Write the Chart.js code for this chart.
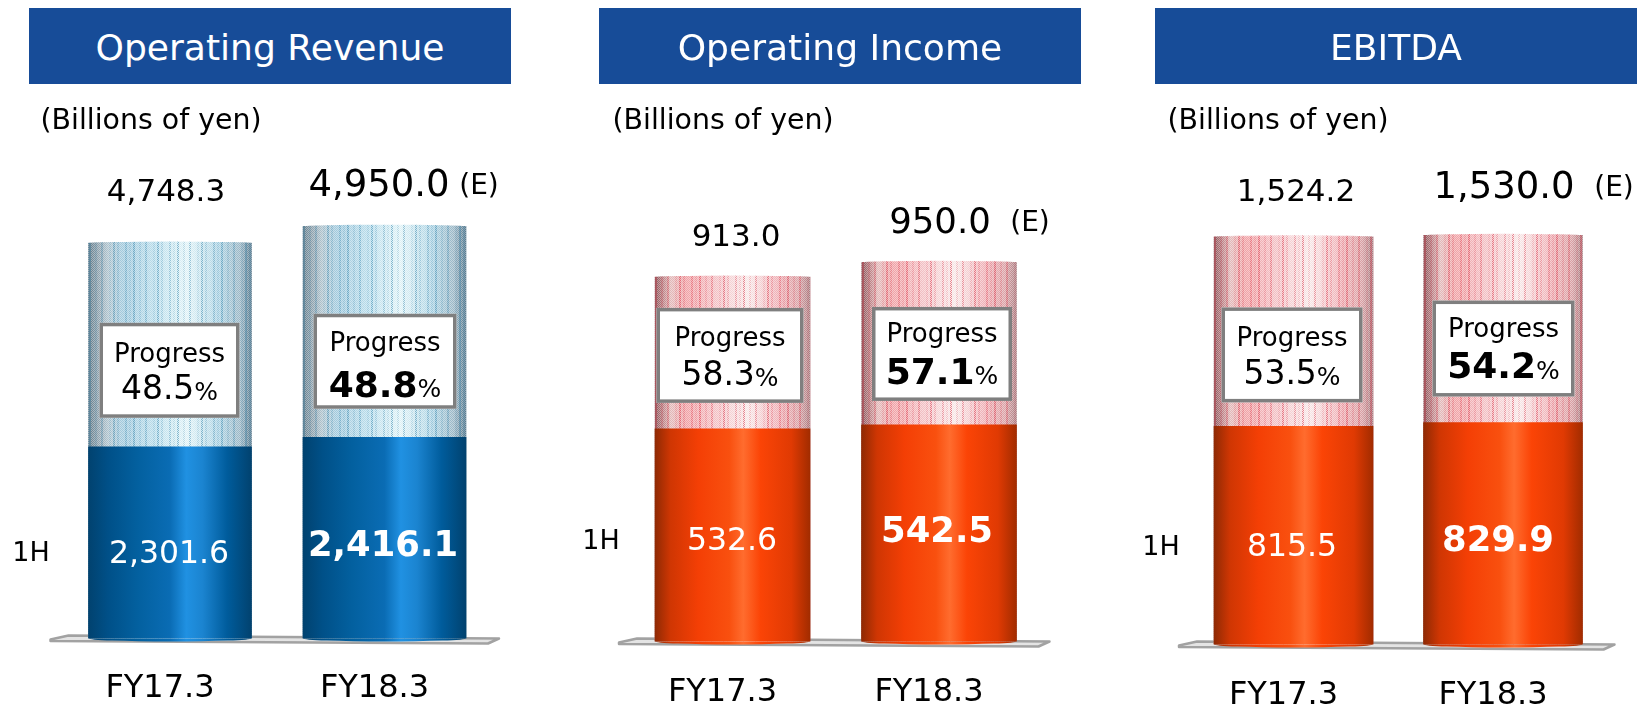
<!DOCTYPE html>
<html><head><meta charset="utf-8">
<script src="https://cdn.jsdelivr.net/npm/chart.js@4"></script>
<style>
html,body{margin:0;padding:0;background:#fff;width:1637px;height:704px;overflow:hidden}
canvas{position:absolute;top:0}
.hdr{position:absolute;top:8px;height:76px;background:#174c98;color:#fff;font:36.1px "DejaVu Sans";line-height:80px;text-align:center;z-index:2}
</style></head><body>
<script>
const categories = ['FY17.3','FY18.3'];
const unitLabel = '(Billions of yen)';
const halfLabel = '1H';
const estimateLabel = '(E)';
const progressLabel = 'Progress';

const revenueFull = [4748.3, 4950.0];
const revenueFirstHalf = [2301.6, 2416.1];
const revenueProgress = [48.5, 48.8];

const incomeFull = [913.0, 950.0];
const incomeFirstHalf = [532.6, 542.5];
const incomeProgress = [58.3, 57.1];

const ebitdaFull = [1524.2, 1530.0];
const ebitdaFirstHalf = [815.5, 829.9];
const ebitdaProgress = [53.5, 54.2];

const FONT = '"DejaVu Sans"';
const BLUE = {
  solid:[[0,'#01426f'],[.12,'#005088'],[.3,'#03609f'],[.5,'#0a6cb4'],[.6,'#2091e2'],[.7,'#1b84d0'],[.85,'#005c9c'],[1,'#01426f']],
  pale:[[0,'#66808f'],[.05,'#90a4b0'],[.12,'#b8ccd6'],[.2,'#a8cfe2'],[.4,'#bfe2f0'],[.6,'#e6f8fc'],[.8,'#b2d8e8'],[.93,'#a0bccb'],[1,'#5f8094']],
  accent:[70,140,175]
};
const ORANGE = {
  solid:[[0,'#8f2a04'],[.1,'#cf3603'],[.28,'#f43f05'],[.48,'#f9500f'],[.57,'#ff6c2e'],[.68,'#fb4406'],[.88,'#e03a03'],[1,'#a22c00']],
  pale:[[0,'#8f5a5e'],[.05,'#c08488'],[.1,'#e8c0c0'],[.2,'#f5a8ac'],[.4,'#f8c8cc'],[.6,'#fdeeee'],[.8,'#f4b4ba'],[.93,'#e0a8ac'],[1,'#b08488']],
  accent:[220,60,80]
};

const panels = [
 {title:'Operating Revenue', hdrLeft:29, hdrWidth:482, left:0, width:560, full:revenueFull, half:revenueFirstHalf, prog:revenueProgress,
  colors:BLUE, base:638.5, yMax:7570, areaL:62.75, areaR:491.75, thick:163, tickOff:-10, tickPad:23,
  unit:[151,119], hLabel:[31,551], floor:[-38,33], eDx:94.5, fullSize:[31,37],
  bars:[{ld:[-4,-53],ind:[-1,-86],box:[-.5,-29,140,95],pd:[30,65]},
        {ld:[-5.5,-42],ind:[-1.5,-94],box:[.5,-28.5,143,95],pd:[28,71]}]},
 {title:'Operating Income', hdrLeft:599, hdrWidth:482, left:560, width:540, full:incomeFull, half:incomeFirstHalf, prog:incomeProgress,
  colors:ORANGE, base:641.5, yMax:1587, areaL:69.25, areaR:482.25, thick:155, tickOff:-10, tickPad:24,
  unit:[163,119], hLabel:[601,539], floor:[-36,33], eDx:91, fullSize:[31,35.5],
  bars:[{ld:[3.5,-42],ind:[-.5,-102],box:[-2.5,-26,147,95],pd:[29,66]},
        {ld:[1,-41],ind:[-2,-111],box:[3,-24,140,94],pd:[26,65]}]},
 {title:'EBITDA', hdrLeft:1155, hdrWidth:482, left:1100, width:537, full:ebitdaFull, half:ebitdaFirstHalf, prog:ebitdaProgress,
  colors:ORANGE, base:644.5, yMax:2380, areaL:88.75, areaR:507.75, thick:159, tickOff:-10, tickPad:24,
  unit:[178,119], hLabel:[1161,545], floor:[-35,32], eDx:111, fullSize:[31,37],
  bars:[{ld:[2.5,-46],ind:[-1.5,-99],box:[-1.5,-24,141,95],pd:[29,66]},
        {ld:[1,-49.5],ind:[-5,-105],box:[.5,-26,142,96],pd:[27,66]}]}
];

const fmt = v => v.toLocaleString('en-US',{minimumFractionDigits:1,maximumFractionDigits:1});

function mixStops(stops,t){
  const hex=s=>[1,3,5].map(i=>parseInt(s.substr(i,2),16));
  for(let i=1;i<stops.length;i++){
    if(t<=stops[i][0]){
      const a=stops[i-1],b=stops[i],k=(t-a[0])/(b[0]-a[0]||1);
      const A=hex(a[1]),B=hex(b[1]);
      return A.map((c,j)=>c+(B[j]-c)*k);
    }
  }
  return hex(stops[stops.length-1][1]);
}
function solidFill(ctx,x0,w,stops){
  const g=ctx.createLinearGradient(x0,0,x0+w,0);
  stops.forEach(s=>g.addColorStop(s[0],s[1]));
  return g;
}
// dithered, striped texture of the translucent upper part of each cylinder
function paleFill(ctx,x0,w,colors){
  const W=Math.round(w),H=4;
  const c=document.createElement('canvas');c.width=W;c.height=H;
  const p=c.getContext('2d'),img=p.createImageData(W,H);
  const stripes=[1,0,0,.4,0,0,.8,0,0,0,.3,0,1,0,.5,0,0,0,.7,0,.3,0];
  for(let y=0;y<H;y++)for(let x=0;x<W;x++){
    const col=mixStops(colors.pale,x/(W-1));
    const s=stripes[Math.floor(x/2)%stripes.length];
    const checker=(x+y)%2===0;
    const out=col.map((v,j)=>checker?v+(255-v)*(.35-.3*s):v*.97+(colors.accent[j]-v*.97)*.55*s);
    const i=(y*W+x)*4;
    img.data[i]=out[0];img.data[i+1]=out[1];img.data[i+2]=out[2];img.data[i+3]=255;
  }
  p.putImageData(img,0,0);
  const pat=ctx.createPattern(c,'repeat');
  pat.setTransform(new DOMMatrix().translate(Math.round(x0),0));
  return pat;
}

const annotate = {
  id:'annotate',
  beforeDatasetsDraw(chart){
    const P=chart.options.plugins.annotate.panel, c=chart.ctx, xs=chart.scales.x;
    const l=xs.getPixelForValue(0)-P.thick/2+P.floor[0], r=xs.getPixelForValue(1)+P.thick/2+P.floor[1];
    const b=chart.chartArea.bottom;
    c.save();
    c.beginPath();
    c.moveTo(l,b+1);c.lineTo(l+18,b-3);c.lineTo(r,b);c.lineTo(r-11,b+5);c.lineTo(l,b+2.5);c.closePath();
    c.fillStyle='#e4e4e4';c.fill();c.strokeStyle='#a2a2a2';c.lineWidth=2.5;c.lineJoin='round';c.stroke();
    c.restore();
  },
  afterDatasetsDraw(chart){
    const P=chart.options.plugins.annotate.panel, c=chart.ctx;
    const fullEls=chart.getDatasetMeta(0).data, halfEls=chart.getDatasetMeta(1).data;
    const ys=chart.scales.y;
    c.save();
    // rounded ends of the cylinders
    fullEls.forEach(el=>{
      c.fillStyle=el.options.backgroundColor;
      c.beginPath();c.ellipse(el.x,el.y,el.width/2,1.5,0,Math.PI,0);c.fill();
    });
    halfEls.forEach(el=>{
      c.fillStyle=el.options.backgroundColor;
      c.beginPath();c.ellipse(el.x,el.base,el.width/2,3,0,0,Math.PI);c.fill();
    });
    c.textBaseline='middle';
    const SHIFT=2.5;
    const text=(s,x,y,size,bold,color,align)=>{
      c.font=(bold?'bold ':'')+size+'px '+FONT;c.fillStyle=color||'#000';c.textAlign=align||'center';
      c.fillText(s,x,y+SHIFT);
    };
    text(unitLabel,P.unit[0],P.unit[1],28.4);
    text(halfLabel,P.hLabel[0]-P.left,P.hLabel[1],27);
    P.bars.forEach((B,i)=>{
      const f=fullEls[i],h=halfEls[i],latest=i===1;
      text(fmt(P.full[i]),f.x+B.ld[0],f.y+B.ld[1],P.fullSize[i]);
      if(latest) text(estimateLabel,f.x+P.eDx,f.y+B.ld[1],28);
      text(fmt(P.half[i]),h.x+B.ind[0],h.base+B.ind[1],latest?35.4:31.5,latest,'#fff');
      const bw=B.box[2],bh=B.box[3],bx=f.x+B.box[0]-bw/2,by=ys.getPixelForValue(P.half[i])+B.box[1]-bh;
      c.fillStyle='#fff';c.fillRect(bx,by,bw,bh);
      c.strokeStyle='#7f7f7f';c.lineWidth=3.5;c.strokeRect(bx+1.75,by+1.75,bw-3.5,bh-3.5);
      const cx=bx+bw/2;
      text(progressLabel,cx,by+B.pd[0],26);
      const num=P.prog[i].toFixed(1),numSize=latest?36:33,numFont=(latest?'bold ':'')+numSize+'px '+FONT,pctFont='25px '+FONT;
      c.font=numFont;const nw=c.measureText(num).width;
      c.font=pctFont;const pw=c.measureText('%').width;
      const sx=cx-(nw+pw)/2;
      text(num,sx,by+B.pd[1],numSize,latest,'#000','left');
      text('%',sx+nw,by+B.pd[1]+3,25,false,'#000','left');
    });
    c.restore();
  }
};

panels.forEach(P=>{
  const hdr=document.createElement('div');
  hdr.className='hdr';hdr.textContent=P.title;
  hdr.style.left=P.hdrLeft+'px';hdr.style.width=P.hdrWidth+'px';
  document.body.appendChild(hdr);
  const cv=document.createElement('canvas');
  cv.width=P.width;cv.height=704;cv.style.left=P.left+'px';
  document.body.appendChild(cv);
  const band=(P.areaR-P.areaL)/categories.length;
  const barLeft=i=>P.areaL+(i+.5)*band-P.thick/2;
  const cv2=cv.getContext('2d');
  const paleFills=categories.map((_,i)=>paleFill(cv2,barLeft(i),P.thick,P.colors));
  const solidFills=categories.map((_,i)=>solidFill(cv2,barLeft(i),P.thick,P.colors.solid));
  new Chart(cv,{
    type:'bar',
    data:{labels:categories,datasets:[
      {label:'Full year',data:P.full,order:2,barThickness:P.thick,backgroundColor:paleFills},
      {label:'1H',data:P.half,order:1,barThickness:P.thick,backgroundColor:solidFills}
    ]},
    options:{
      responsive:false,animation:false,events:[],
      layout:{padding:{left:P.areaL,right:P.width-P.areaR,top:8,bottom:0}},
      plugins:{legend:{display:false},tooltip:{enabled:false},title:{display:false},annotate:{panel:P}},
      scales:{
        x:{stacked:false,grid:{display:false},border:{display:false},
           afterFit:s=>{s.height=704-P.base;},
           ticks:{color:'#000',font:{family:FONT,size:32},padding:P.tickPad,labelOffset:P.tickOff,maxRotation:0,autoSkip:false}},
        y:{display:false,min:0,max:P.yMax}
      },
      datasets:{bar:{grouped:false}}
    },
    plugins:[annotate]
  });
});
</script>
</body></html>
